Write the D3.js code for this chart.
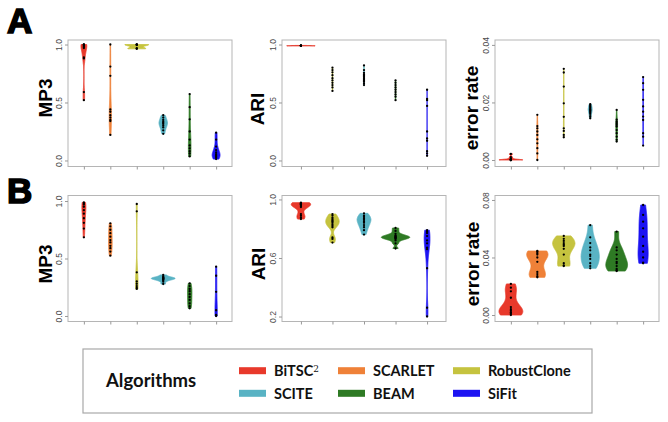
<!DOCTYPE html>
<html><head><meta charset="utf-8">
<script src="https://cdn.jsdelivr.net/npm/d3@7"></script>
<style>body{margin:0;background:#fff}svg{display:block}</style>
</head><body><svg id="chart" width="668" height="422"></svg>
<script>
// ---------------- DATA ----------------
const algorithms = ["BiTSC2","SCARLET","RobustClone","SCITE","BEAM","SiFit"];
const algoColors = ["#e8392b","#ef8138","#c5c33f","#59b3c4","#2e7a24","#1c13f2"];
const legendTitle = "Algorithms";
const panelLetters = ["A","B"];
const catsAll = ["BiTSC2","SCARLET","RobustClone","SCITE","BEAM","SiFit"];
const catsARI = ["BiTSC2","RobustClone","SCITE","BEAM","SiFit"];

// Row A
const mp3A = {
  BiTSC2: [1.0,1.0,0.995,0.99,0.98,0.97,0.89,0.88,0.59,0.52],
  SCARLET: [1.0,0.81,0.73,0.44,0.42,0.39,0.37,0.35,0.34,0.22],
  RobustClone: [1.0,1.0,0.998,0.996,0.968,0.965,0.963],
  SCITE: [0.39,0.37,0.35,0.335,0.325,0.315,0.30,0.285,0.26,0.23],
  BEAM: [0.573,0.46,0.355,0.25,0.18,0.13,0.105,0.08,0.06,0.035],
  SiFit: [0.24,0.18,0.12,0.09,0.07,0.055,0.045,0.035,0.025,0.012]
};
const ariA = {
  BiTSC2: [0.992,0.991,0.99,0.99,0.989,0.989,0.988],
  RobustClone: [0.80,0.78,0.76,0.735,0.71,0.69,0.67,0.65,0.63,0.60],
  SCITE: [0.82,0.78,0.755,0.74,0.73,0.72,0.71,0.70,0.69,0.68,0.665,0.65],
  BEAM: [0.69,0.67,0.65,0.63,0.61,0.59,0.57,0.55,0.52],
  SiFit: [0.61,0.53,0.52,0.47,0.25,0.19,0.17,0.08,0.06,0.04]
};
const errA = {
  BiTSC2: [0,0,0,0,0,0.0001,0.0002,0.0005,0.001,0.0021],
  SCARLET: [0.0157,0.0118,0.011,0.0099,0.0087,0.0072,0.0058,0.0041,0.0023,0.0],
  RobustClone: [0.0317,0.0304,0.0255,0.0197,0.015,0.011,0.0101,0.0087,0.0079],
  SCITE: [0.0194,0.019,0.0186,0.0182,0.0178,0.0175,0.0172,0.0169,0.0165,0.016,0.0152,0.0145],
  BEAM: [0.0174,0.014,0.0133,0.0128,0.0122,0.0116,0.0104,0.0093,0.0081,0.007,0.0064],
  SiFit: [0.0288,0.0267,0.0244,0.0209,0.0186,0.0168,0.0151,0.0139,0.0093,0.0081,0.005]
};
// Row B
const mp3B = {
  BiTSC2: [0.988,0.98,0.97,0.95,0.92,0.89,0.85,0.81,0.76,0.684],
  SCARLET: [0.806,0.78,0.75,0.72,0.69,0.66,0.64,0.61,0.59,0.56,0.525],
  RobustClone: [0.974,0.91,0.38,0.30,0.28,0.26,0.245,0.235],
  SCITE: [0.357,0.345,0.337,0.333,0.33,0.327,0.324,0.32,0.316,0.31,0.298,0.278],
  BEAM: [0.284,0.26,0.235,0.215,0.19,0.165,0.14,0.11,0.085,0.067],
  SiFit: [0.429,0.35,0.21,0.05,0.01,0.005,0.0]
};
const ariB = {
  BiTSC2: [0.978,0.975,0.972,0.97,0.968,0.965,0.962,0.955,0.948,0.9,0.888,0.875,0.866],
  RobustClone: [0.90,0.89,0.875,0.865,0.855,0.85,0.84,0.83,0.82,0.81,0.74,0.73,0.705],
  SCITE: [0.905,0.89,0.88,0.87,0.86,0.85,0.84,0.825,0.81,0.79,0.76],
  BEAM: [0.805,0.785,0.765,0.755,0.75,0.745,0.742,0.738,0.735,0.73,0.72,0.70,0.665],
  SiFit: [0.79,0.78,0.77,0.75,0.72,0.70,0.67,0.66,0.53,0.26,0.20]
};
const errB = {
  BiTSC2: [0.0216,0.019,0.0165,0.012,0.0055,0.004,0.003,0.002,0.0015,0.0008,0.0],
  SCARLET: [0.0445,0.044,0.043,0.042,0.040,0.037,0.030,0.0285,0.027,0.0262],
  RobustClone: [0.055,0.053,0.0515,0.050,0.049,0.048,0.046,0.042,0.036,0.0345,0.034],
  SCITE: [0.0625,0.054,0.05,0.047,0.045,0.042,0.041,0.039,0.036,0.034,0.0325],
  BEAM: [0.058,0.047,0.045,0.042,0.039,0.037,0.036,0.034,0.032,0.031,0.0306],
  SiFit: [0.0765,0.0696,0.0649,0.0603,0.0545,0.048,0.044,0.040,0.0365,0.036]
};

const ticksMP3 = [0.0, 0.5, 1.0];
const ticksARIA = [0.0, 0.5, 1.0];
const ticksErrA = [0.00, 0.02, 0.04];
const ticksARIB = [0.2, 0.6, 1.0];
const ticksErrB = [0.00, 0.04, 0.08];

const domMP3A = [-0.052, 1.039];
const domARIA = [-0.052, 1.039];
const domErrA = [-0.00226, 0.0417];
const domMP3B = [-0.048, 1.048];
const domARIB = [0.166, 1.027];
const domErrB = [-0.0045, 0.0831];

// ---------------- LAYOUT ----------------
const svg = d3.select("#chart");
const colX = [[68,232],[282,446],[495,659]];
const rowY = [[40,166.5],[195.5,321.5]];
const color = d3.scaleOrdinal().domain(algorithms).range(algoColors);

const panels = [
  {c:0,r:0,cats:catsAll,data:mp3A,dom:domMP3A,ticks:ticksMP3,fmt:".1f",title:"MP3",tp:[45,98]},
  {c:1,r:0,cats:catsARI,data:ariA,dom:domARIA,ticks:ticksARIA,fmt:".1f",title:"ARI",tp:[257.5,109]},
  {c:2,r:0,cats:catsAll,data:errA,dom:domErrA,ticks:ticksErrA,fmt:".2f",title:"error rate",tp:[471,108]},
  {c:0,r:1,cats:catsAll,data:mp3B,dom:domMP3B,ticks:ticksMP3,fmt:".1f",title:"MP3",tp:[45,264]},
  {c:1,r:1,cats:catsARI,data:ariB,dom:domARIB,ticks:ticksARIB,fmt:".1f",title:"ARI",tp:[258,264]},
  {c:2,r:1,cats:catsAll,data:errB,dom:domErrB,ticks:ticksErrB,fmt:".2f",title:"error rate",tp:[472,264]}
];

function bwNrd0(x){
  const n = x.length;
  const s = d3.deviation(x) || 0;
  const so = x.slice().sort(d3.ascending);
  const iqr = d3.quantileSorted(so,0.75) - d3.quantileSorted(so,0.25);
  let lo = Math.min(s, iqr/1.34);
  if(!(lo > 0)) lo = s || Math.abs(so[0]) || 1;
  return 0.9*lo*Math.pow(n,-0.2);
}
function kde(x){
  const bw = bwNrd0(x);
  const [mn,mx] = d3.extent(x);
  const N = 256, out = [];
  for(let i=0;i<N;i++){
    const y = mn + (mx-mn)*i/(N-1);
    let s = 0;
    for(const v of x){ const u=(y-v)/bw; s += Math.exp(-0.5*u*u); }
    out.push({y, d: s/(x.length*bw*Math.sqrt(2*Math.PI))});
  }
  return out;
}

const fontAxis = "'Liberation Sans', Arial, sans-serif";

panels.forEach(p => {
  const [x0,x1] = colX[p.c], [y0,y1] = rowY[p.r];
  const g = svg.append("g");
  const xs = d3.scalePoint().domain(p.cats).range([x0,x1]).padding(0.6);
  const ys = d3.scaleLinear().domain(p.dom).range([y1,y0]);
  const step = xs.step();
  const dens = p.cats.map(c => kde(p.data[c]));
  const maxD = d3.max(dens, d => d3.max(d, e => e.d));
  const half = 0.45*step;

  p.cats.forEach((c,i) => {
    const cx = xs(c);
    const area = d3.area()
      .x0(e => cx - half*e.d/maxD)
      .x1(e => cx + half*e.d/maxD)
      .y(e => ys(e.y));
    g.append("path").attr("d", area(dens[i]))
      .attr("fill", color(c)).attr("stroke", color(c)).attr("stroke-width", 0.8);
  });
  p.cats.forEach(c => {
    g.selectAll(null).data(p.data[c]).join("circle")
      .attr("cx", xs(c)).attr("cy", v => ys(v)).attr("r", 1.15).attr("fill", "#000");
  });
  g.append("rect").attr("x",x0).attr("y",y0).attr("width",x1-x0).attr("height",y1-y0)
    .attr("fill","none").attr("stroke","#b5b5b5").attr("stroke-width",1);
  const ya = g.append("g").attr("transform",`translate(${x0},0)`)
    .call(d3.axisLeft(ys).tickValues(p.ticks).tickSize(3).tickPadding(0).tickFormat(d3.format(p.fmt)));
  ya.select(".domain").remove();
  ya.selectAll(".tick line").attr("stroke","#999");
  ya.selectAll(".tick text")
    .attr("transform","translate(-8.5,0) rotate(-90)")
    .attr("x",0).attr("dy","0.35em").attr("text-anchor","middle")
    .attr("fill","#4a4a4a").style("font-family",fontAxis).style("font-size","8.5px");
  const xa = g.append("g").attr("transform",`translate(0,${y1})`)
    .call(d3.axisBottom(xs).tickSize(3).tickFormat(""));
  xa.select(".domain").remove();
  xa.selectAll(".tick line").attr("stroke","#999");
  g.append("text").attr("transform",`translate(${p.tp[0]},${p.tp[1]}) rotate(-90)`)
    .attr("text-anchor","middle").attr("dy","0.35em")
    .style("font-family",fontAxis).style("font-weight","bold").style("font-size","19px")
    .attr("fill","#000").text(p.title);
});

// panel letters
svg.selectAll(".letter").data(panelLetters).join("text")
  .attr("x", 7).attr("y", (d,i) => i===0 ? 33 : 203)
  .style("font-family",fontAxis).style("font-weight","bold").style("font-size","35px")
  .attr("fill","#000").attr("stroke","#000").attr("stroke-width",1.6)
  .text(d => d);

// legend
const lg = svg.append("g");
lg.append("rect").attr("x",83).attr("y",349).attr("width",509).attr("height",64)
  .attr("fill","#fff").attr("stroke","#a8a8a8").attr("stroke-width",1.2);
lg.append("text").attr("x",106).attr("y",387)
  .style("font-family","Lato, 'Open Sans', sans-serif").style("font-weight","bold").style("font-size","18.5px")
  .attr("fill","#111").text(legendTitle);
const swX = [239,338,453], rowC = [370.7,393.3];
algorithms.forEach((a,i) => {
  const sx = swX[i%3], cy = rowC[Math.floor(i/3)];
  lg.append("rect").attr("x",sx).attr("y",cy-3.5).attr("width",27).attr("height",7).attr("fill",color(a));
  const t = lg.append("text").attr("x",sx+35).attr("y",cy).attr("dy","0.36em")
    .style("font-family","Lato, 'Open Sans', sans-serif").style("font-weight","bold").style("font-size","14.5px")
    .attr("fill","#111");
  if(a === "BiTSC2"){
    t.append("tspan").text("BiTSC");
    t.append("tspan").attr("dy","-0.45em").style("font-family","'DejaVu Serif', 'Liberation Serif', serif")
      .style("font-weight","normal").style("font-size","9px").text("2");
  } else t.text(a);
});
</script>
</body></html>
